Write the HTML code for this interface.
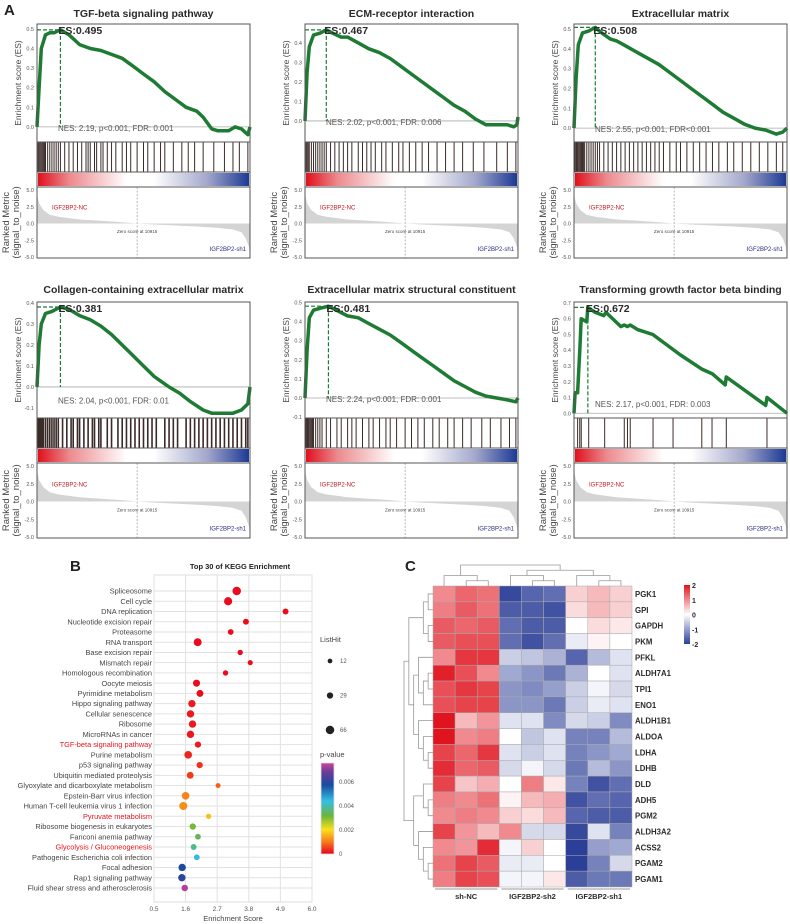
<!DOCTYPE html>
<html><head><meta charset="utf-8"><style>
html,body{margin:0;padding:0;background:#fff;}
svg{display:block;font-family:"Liberation Sans",Arial,sans-serif;}
</style></head><body>
<svg id="fig" width="790" height="924" viewBox="0 0 790 924" xmlns="http://www.w3.org/2000/svg">
<defs>
<linearGradient id="rankGrad" x1="0" x2="1" y1="0" y2="0">
<stop offset="0" stop-color="#e0101c"/><stop offset="0.15" stop-color="#ec8a8e"/><stop offset="0.42" stop-color="#ffffff"/><stop offset="0.55" stop-color="#ffffff"/><stop offset="0.8" stop-color="#a4a8cc"/><stop offset="1" stop-color="#1c3a94"/>
</linearGradient>
<linearGradient id="pGrad" x1="0" x2="0" y1="1" y2="0">
<stop offset="0" stop-color="#e8001e"/><stop offset="0.13" stop-color="#f7781a"/><stop offset="0.27" stop-color="#f9e11a"/><stop offset="0.42" stop-color="#6ab43c"/><stop offset="0.58" stop-color="#34c0e6"/><stop offset="0.76" stop-color="#1a4aa0"/><stop offset="0.9" stop-color="#6a3c96"/><stop offset="1" stop-color="#c8449a"/>
</linearGradient>
<linearGradient id="hmGrad" x1="0" x2="0" y1="0" y2="1">
<stop offset="0" stop-color="#e0141e"/><stop offset="0.5" stop-color="#ffffff"/><stop offset="1" stop-color="#2c3f98"/>
</linearGradient>
</defs>
<text x="4" y="15" font-size="15" font-weight="bold" fill="#222">A</text>
<text x="70" y="571" font-size="15" font-weight="bold" fill="#222">B</text>
<text x="405" y="571" font-size="15" font-weight="bold" fill="#222">C</text>
<g id="gA"></g><g id="gB"></g><g id="gC"></g>
</svg>
<script>
// ===== Panel A data =====
const gseaTitles = ["TGF-beta signaling pathway","ECM-receptor interaction","Extracellular matrix","Collagen-containing extracellular matrix","Extracellular matrix structural constituent","Transforming growth factor beta binding"];
const gseaES = ["0.495","0.467","0.508","0.381","0.481","0.672"];
const gseaPeak = [0.11,0.1,0.1,0.11,0.11,0.065];
const gseaNES = ["NES: 2.19, p<0.001, FDR: 0.001","NES: 2.02, p<0.001, FDR: 0.006","NES: 2.55, p<0.001, FDR<0.001","NES: 2.04, p<0.001, FDR: 0.01","NES: 2.24, p<0.001, FDR: 0.001","NES: 2.17, p<0.001, FDR: 0.003"];
const gseaYMin = [-0.077,-0.108,-0.07,-0.148,-0.105,-0.03];
const gseaYMax = [0.525,0.497,0.525,0.405,0.503,0.706];
const gseaTicks = [[0,0.1,0.2,0.3,0.4,0.5],[0,0.1,0.2,0.3,0.4],[0,0.1,0.2,0.3,0.4,0.5],[-0.1,0,0.1,0.2,0.3,0.4],[-0.1,0,0.1,0.2,0.3,0.4,0.5],[0,0.1,0.2,0.3,0.4,0.5,0.6,0.7]];
const esPos1 = [0,0.01,0.02,0.04,0.06,0.08,0.11,0.15,0.2,0.25,0.3,0.35,0.4,0.45,0.5,0.55,0.6,0.65,0.7,0.75,0.78,0.8,0.82,0.85,0.9,0.93,0.96,0.99,1];
const esVal1 = [0,0.2,0.4,0.47,0.48,0.48,0.495,0.47,0.42,0.4,0.39,0.37,0.35,0.31,0.27,0.23,0.18,0.14,0.1,0.08,0.05,0.02,-0.01,-0.02,-0.02,0,-0.01,-0.04,0];
const esPos2 = [0,0.01,0.02,0.04,0.07,0.1,0.13,0.17,0.2,0.25,0.3,0.35,0.4,0.45,0.5,0.55,0.6,0.65,0.7,0.75,0.8,0.85,0.9,0.95,0.98,0.995,1];
const esVal2 = [0,0.25,0.38,0.44,0.45,0.467,0.45,0.43,0.43,0.4,0.37,0.35,0.32,0.28,0.24,0.2,0.16,0.12,0.08,0.05,0.01,-0.02,-0.02,-0.02,-0.03,-0.02,0.02];
const esPos3 = [0,0.01,0.02,0.04,0.07,0.1,0.13,0.17,0.2,0.25,0.3,0.35,0.4,0.45,0.5,0.55,0.6,0.65,0.7,0.75,0.8,0.85,0.9,0.95,0.98,1];
const esVal3 = [0,0.25,0.42,0.48,0.49,0.508,0.48,0.45,0.44,0.41,0.38,0.35,0.32,0.28,0.24,0.2,0.16,0.12,0.08,0.05,0.02,0,-0.01,-0.03,-0.02,0];
const esPos4 = [0,0.01,0.02,0.04,0.07,0.11,0.15,0.2,0.25,0.3,0.35,0.4,0.45,0.5,0.55,0.62,0.67,0.72,0.78,0.82,0.87,0.92,0.96,0.99,1];
const esVal4 = [0,0.2,0.3,0.35,0.36,0.381,0.37,0.34,0.32,0.29,0.25,0.2,0.15,0.1,0.05,0,-0.03,-0.07,-0.11,-0.125,-0.125,-0.125,-0.11,-0.08,0];
const esPos5 = [0,0.01,0.02,0.04,0.07,0.11,0.13,0.2,0.25,0.3,0.35,0.4,0.45,0.5,0.55,0.6,0.65,0.7,0.75,0.8,0.85,0.9,0.95,0.99,1];
const esVal5 = [0,0.25,0.42,0.46,0.47,0.481,0.47,0.43,0.42,0.39,0.36,0.33,0.29,0.25,0.21,0.17,0.13,0.09,0.06,0.03,0.01,0,-0.01,-0.02,0];
const esPos6 = [0,0.005,0.017,0.027,0.034,0.06,0.065,0.1,0.14,0.15,0.22,0.236,0.25,0.264,0.3,0.37,0.5,0.6,0.65,0.71,0.715,0.9,0.906,1];
const esVal6 = [0,0.13,0.13,0.4,0.6,0.58,0.672,0.64,0.62,0.64,0.55,0.56,0.55,0.56,0.53,0.5,0.37,0.28,0.25,0.18,0.23,0.05,0.1,0];
const hits1 = [0.005,0.01,0.015,0.02,0.025,0.03,0.035,0.04,0.05,0.06,0.07,0.08,0.09,0.1,0.11,0.13,0.15,0.17,0.19,0.21,0.23,0.24,0.25,0.27,0.28,0.3,0.31,0.33,0.35,0.37,0.4,0.42,0.44,0.47,0.5,0.52,0.55,0.58,0.6,0.64,0.68,0.71,0.74,0.78,0.83,0.88,0.92,0.95,0.99];
const hits2 = [0.005,0.01,0.015,0.02,0.03,0.04,0.05,0.06,0.07,0.08,0.09,0.1,0.12,0.14,0.16,0.18,0.2,0.22,0.25,0.27,0.29,0.31,0.33,0.36,0.38,0.41,0.44,0.46,0.49,0.52,0.55,0.58,0.62,0.66,0.7,0.74,0.79,0.84,0.9,0.95,0.99];
const hits3 = [0.003,0.008,0.012,0.016,0.02,0.025,0.03,0.035,0.04,0.045,0.05,0.06,0.07,0.08,0.09,0.1,0.11,0.12,0.14,0.16,0.18,0.2,0.22,0.24,0.26,0.28,0.3,0.32,0.34,0.36,0.38,0.4,0.42,0.45,0.48,0.5,0.53,0.56,0.59,0.62,0.65,0.68,0.72,0.75,0.79,0.83,0.87,0.91,0.95,0.98];
const hits4 = [0.005,0.01,0.015,0.02,0.025,0.03,0.04,0.05,0.06,0.07,0.08,0.09,0.1,0.12,0.14,0.16,0.17,0.19,0.2,0.22,0.24,0.26,0.27,0.29,0.3,0.33,0.35,0.38,0.4,0.42,0.44,0.46,0.48,0.5,0.52,0.54,0.56,0.6,0.62,0.64,0.66,0.7,0.72,0.74,0.76,0.78,0.8,0.82,0.84,0.86,0.88,0.9,0.92,0.94,0.96,0.98,0.99];
const hits5 = [0.004,0.008,0.012,0.016,0.02,0.025,0.03,0.035,0.04,0.05,0.06,0.07,0.08,0.1,0.12,0.15,0.17,0.2,0.22,0.24,0.27,0.3,0.32,0.35,0.38,0.4,0.43,0.47,0.5,0.53,0.56,0.6,0.63,0.67,0.7,0.74,0.78,0.83,0.87,0.92,0.96,0.99];
const hits6 = [0.017,0.027,0.034,0.069,0.144,0.236,0.251,0.264,0.371,0.465,0.6,0.648,0.715,0.906];
const rankPos = [0,0.003,0.01,0.03,0.06,0.1,0.2,0.3,0.4,0.47,0.55,0.65,0.75,0.85,0.92,0.96,0.98,0.995,1];
const rankVal = [5,4,3,2,1.3,1,0.6,0.4,0.2,0,-0.15,-0.3,-0.45,-0.65,-0.9,-1.3,-2.2,-3.5,-5];
const rankTicks = [5,2.5,0,-2.5,-5];
const rankTickLabels = ["5.0","2.5","0.0","-2.5","-5.0"];

// ===== Panel B data =====
const keggTerms = ["Spliceosome","Cell cycle","DNA replication","Nucleotide excision repair","Proteasome","RNA transport","Base excision repair","Mismatch repair","Homologous recombination","Oocyte meiosis","Pyrimidine metabolism","Hippo signaling pathway","Cellular senescence","Ribosome","MicroRNAs in cancer","TGF-beta signaling pathway","Purine metabolism","p53 signaling pathway","Ubiquitin mediated proteolysis","Glyoxylate and dicarboxylate metabolism","Epstein-Barr virus infection","Human T-cell leukemia virus 1 infection","Pyruvate metabolism","Ribosome biogenesis in eukaryotes","Fanconi anemia pathway","Glycolysis / Gluconeogenesis","Pathogenic Escherichia coli infection","Focal adhesion","Rap1 signaling pathway","Fluid shear stress and atherosclerosis"];
const keggScore = [3.38,3.08,5.08,3.70,3.17,2.02,3.50,3.85,2.99,1.98,2.10,1.82,1.77,1.84,1.77,2.03,1.69,2.09,1.76,2.73,1.60,1.52,2.40,1.85,2.03,1.88,1.99,1.48,1.47,1.57];
const keggHits = [66,60,24,24,22,55,18,15,18,40,38,45,45,45,45,28,50,28,38,14,50,58,18,30,22,24,22,45,45,32];
const keggP = [0.0001,0.0001,0.0001,0.0001,0.0001,0.0001,0.0001,0.0001,0.0001,0.0001,0.0001,0.0002,0.0002,0.0002,0.0002,0.0002,0.0003,0.0004,0.0005,0.0008,0.0011,0.0012,0.0017,0.0031,0.0034,0.0038,0.0045,0.0058,0.006,0.0074];
const keggHighlight = ["TGF-beta signaling pathway","Pyruvate metabolism","Glycolysis / Gluconeogenesis"];
const keggXTicks = [0.5,1.6,2.7,3.8,4.9,6.0];
const keggXTickLabels = ["0.5","1.6","2.7","3.8","4.9","6.0"];
const listHitLegend = [12,29,66];
const pLegendTicks = [0,0.002,0.004,0.006];
const pLegendLabels = ["0","0.002","0.004","0.006"];

// ===== Panel C data =====
const genes = ["PGK1","GPI","GAPDH","PKM","PFKL","ALDH7A1","TPI1","ENO1","ALDH1B1","ALDOA","LDHA","LDHB","DLD","ADH5","PGM2","ALDH3A2","ACSS2","PGAM2","PGAM1"];
const groups = ["sh-NC","IGF2BP2-sh2","IGF2BP2-sh1"];
const zPGK1=[1.0,1.3,1.2,-1.9,-1.6,-1.5,0.4,0.6,0.4];
const zGPI=[1.1,1.4,1.2,-1.7,-1.7,-1.8,0.3,0.6,0.4];
const zGAPDH=[1.4,1.3,1.4,-1.5,-1.7,-1.7,0.0,0.3,0.2];
const zPKM=[1.4,1.5,1.5,-1.5,-1.8,-1.5,-0.2,0.1,0.0];
const zPFKL=[1.0,1.7,1.7,-0.5,-0.6,-0.8,-1.6,-0.7,-0.3];
const zALDH7A1=[1.9,1.5,1.0,-0.9,-1.1,-1.4,-0.8,0.0,-0.3];
const zTPI1=[1.5,1.7,1.6,-1.1,-1.2,-1.0,-0.5,-0.1,-0.4];
const zENO1=[1.5,1.6,1.6,-1.1,-1.1,-1.4,-0.5,-0.2,-0.3];
const zALDH1B1=[2.0,0.6,0.9,-0.3,-0.3,-1.2,-0.4,-0.5,-1.2];
const zALDOA=[2.0,1.0,1.1,0.0,-0.6,-0.3,-1.3,-1.3,-0.7];
const zLDHA=[1.6,1.3,1.7,-0.3,-0.5,-0.3,-1.3,-1.1,-0.9];
const zLDHB=[1.8,1.3,1.4,-0.4,-0.1,-0.4,-1.4,-0.7,-1.1];
const zDLD=[1.6,0.5,0.7,0.0,1.1,0.2,-1.3,-1.8,-1.5];
const zADH5=[1.1,1.0,1.2,0.1,0.6,0.7,-1.8,-1.5,-1.6];
const zPGM2=[1.0,1.1,1.0,0.4,0.3,0.6,-1.6,-1.7,-1.7];
const zALDH3A2=[1.6,0.9,0.6,1.0,-0.4,-0.4,-1.9,-0.3,-1.3];
const zACSS2=[1.0,0.9,1.8,-0.1,0.4,0.0,-2.0,-1.0,-0.9];
const zPGAM2=[1.2,1.6,1.4,-0.2,-0.2,0.0,-2.0,-1.3,-0.4];
const zPGAM1=[1.1,1.6,1.5,-0.1,-0.1,0.2,-1.7,-1.4,-1.4];
const heatValues=[zPGK1,zGPI,zGAPDH,zPKM,zPFKL,zALDH7A1,zTPI1,zENO1,zALDH1B1,zALDOA,zLDHA,zLDHB,zDLD,zADH5,zPGM2,zALDH3A2,zACSS2,zPGAM2,zPGAM1];
const rowTree=[[[[0,1],[2,3]],[[4,[[5,6],7]],[8,[9,[10,11]]]]],[[12,[13,14]],[15,[16,[17,18]]]]];
const colTree=[[0,[1,2]],[[3,[4,5]],[6,[7,8]]]];
const heatLegendTicks=[2,1,0,-1,-2];

// ===== helpers =====
const NS="http://www.w3.org/2000/svg";
function mk(parent,tag,attrs,text){const e=document.createElementNS(NS,tag);for(const k in attrs)e.setAttribute(k,attrs[k]);if(text!==undefined)e.textContent=text;parent.appendChild(e);return e;}

// ===== Panel A =====
const gA=document.getElementById('gA');
const colX=[37,305,574], boxW=213;
const rows=[{t:24,esB:142,hitB:172,cbB:187,rB:258,title:17},{t:302,esB:418,hitB:448,cbB:463,rB:538,title:293}];
const esPos=[esPos1,esPos2,esPos3,esPos4,esPos5,esPos6];
const esVal=[esVal1,esVal2,esVal3,esVal4,esVal5,esVal6];
const hitsAll=[hits1,hits2,hits3,hits4,hits5,hits6];
for(let p=0;p<6;p++){
  const x0=colX[p%3], R=rows[Math.floor(p/3)];
  const g=mk(gA,'g',{});
  
  
  const xS=f=>x0+f*boxW;
  const yS=v=>R.t+(gseaYMax[p]-v)/(gseaYMax[p]-gseaYMin[p])*(R.esB-R.t);
  const t=mk(g,'text',{x:x0+boxW/2,y:R.title,'font-size':10.5,'font-weight':'bold','text-anchor':'middle',fill:'#2a2a2a'},gseaTitles[p]);
  
  
  // zero line
  mk(g,'line',{x1:x0,x2:x0+boxW,y1:yS(0),y2:yS(0),stroke:'#aaa','stroke-width':0.8});
  // ticks
  gseaTicks[p].forEach(v=>{
    const tl=mk(g,'text',{x:x0-3,y:yS(v)+2,'font-size':5.5,'text-anchor':'end',fill:'#555'},v.toFixed(1));
    
    
  });
  const yt=mk(g,'text',{transform:`translate(${x0-16},${(R.t+R.esB)/2}) rotate(-90)`,'font-size':8.5,'text-anchor':'middle',fill:'#444'},'Enrichment score (ES)');
  
  
  // NES
  const nes=mk(g,'text',{x:x0+21,y:(p===3?yS(-0.08):(p===5?yS(0.04):yS(0)+4)),'font-size':8,fill:'#555'},gseaNES[p]);
  
  
  // dashed peak
  const pk=parseFloat(gseaES[p]);
  mk(g,'line',{x1:x0,x2:xS(gseaPeak[p]),y1:yS(pk),y2:yS(pk),stroke:'#1e7b34','stroke-width':1.2,'stroke-dasharray':'4,2'});
  mk(g,'line',{x1:xS(gseaPeak[p]),x2:xS(gseaPeak[p]),y1:yS(pk),y2:yS(0),stroke:'#1e7b34','stroke-width':1.2,'stroke-dasharray':'4,2'});
  // curve
  const pts=esPos[p].map((f,i)=>xS(f).toFixed(1)+','+yS(esVal[p][i]).toFixed(1)).join(' ');
  const cl=mk(g,'polyline',{points:pts,fill:'none',stroke:'#1e7b34','stroke-width':3.5,'stroke-linejoin':'round'});
  
  
  const esl=mk(g,'text',{x:xS(gseaPeak[p])-2,y:R.t+10,'font-size':10.5,'font-weight':'bold',fill:'#2a2a2a'},'ES:'+gseaES[p]);
  
  
  // hits
  hitsAll[p].forEach(f=>{
    const h=mk(g,'line',{x1:xS(f),x2:xS(f),y1:R.esB,y2:R.hitB,stroke:'#3a2a28','stroke-width':p===3?1.6:1});
    
    
  });
  // color bar
  const cb=mk(g,'rect',{x:x0+1,y:R.hitB+1,width:boxW-2,height:R.cbB-R.hitB-2,fill:'url(#rankGrad)'});
  
  
  // ranked metric
  const rT=R.cbB+3, rBt=R.rB-1;
  const yR=v=>rT+(5-v)/10*(rBt-rT);
  let a='M'+xS(0)+','+yR(0)+' '+rankPos.map((f,i)=>'L'+xS(f).toFixed(1)+','+yR(rankVal[i]).toFixed(1)).join(' ')+' L'+xS(1)+','+yR(0)+'Z';
  const ar=mk(g,'path',{d:a,fill:'#d4d4d4'});
  
  
  mk(g,'line',{x1:xS(0.47),x2:xS(0.47),y1:R.cbB,y2:R.rB,stroke:'#888','stroke-width':0.6,'stroke-dasharray':'2,1.5'});
  rankTicks.forEach((v,i)=>{
    const tl=mk(g,'text',{x:x0-3,y:yR(v)+2,'font-size':5.5,'text-anchor':'end',fill:'#555'},rankTickLabels[i]);
    
    
  });
  const rt=mk(g,'text',{transform:`translate(${x0-28},${(R.cbB+R.rB)/2}) rotate(-90)`,'font-size':9.5,'text-anchor':'middle',fill:'#444'});
  
  
  mk(rt,'tspan',{x:0,dy:0},'Ranked Metric');
  mk(rt,'tspan',{x:0,dy:10},'(signal_to_noise)');
  const nc=mk(g,'text',{x:x0+15,y:yR(2.1),'font-size':6,fill:'#c0141c'},'IGF2BP2-NC');
  
  
  const zs=mk(g,'text',{x:xS(0.47),y:yR(-1.4),'font-size':4.5,'text-anchor':'middle',fill:'#444'},'Zero score at 10915');
  
  
  const sh=mk(g,'text',{x:x0+boxW-4,y:yR(-4.1),'font-size':6,'text-anchor':'end',fill:'#2a2a80'},'IGF2BP2-sh1');
  
  
  // frames
  [[R.t,R.esB],[R.esB,R.hitB],[R.hitB,R.cbB],[R.cbB,R.rB]].forEach(([a1,b1])=>mk(g,'rect',{x:x0,y:a1,width:boxW,height:b1-a1,fill:'none',stroke:'#555','stroke-width':1}));
}

// ===== Panel B =====
const gB=document.getElementById('gB');
const bx0=154,bx1=312,by0=575,by1=902,rowY0=591,rowStep=10.24;
const xB=v=>bx0+(v-0.5)/5.5*(bx1-bx0);
const yB=i=>rowY0+i*rowStep;
const rB=n=>1+0.4*Math.sqrt(n);
function pColor(p){
  const stops=[[0,[232,0,30]],[0.001,[247,120,26]],[0.002,[249,225,26]],[0.0032,[106,180,60]],[0.0044,[52,192,230]],[0.0058,[26,74,160]],[0.0068,[106,60,150]],[0.0076,[200,68,154]]];
  for(let i=0;i<stops.length-1;i++){const [a,ca]=stops[i],[b,cb]=stops[i+1];if(p<=b){const t=Math.max(0,(p-a)/(b-a));return 'rgb('+ca.map((c,k)=>Math.round(c+(cb[k]-c)*t)).join(',')+')';}}
  return 'rgb(200,68,154)';
}
const bt=mk(gB,'text',{x:240,y:569,'font-size':7.5,'font-weight':'bold','text-anchor':'middle',fill:'#222'},'Top 30 of KEGG Enrichment');


mk(gB,'rect',{x:bx0,y:by0,width:bx1-bx0,height:by1-by0,fill:'#fff',stroke:'#ddd','stroke-width':1});
keggXTicks.forEach((v,i)=>{
  mk(gB,'line',{x1:xB(v),x2:xB(v),y1:by0,y2:by1,stroke:'#e2e2e2','stroke-width':1});
  const tl=mk(gB,'text',{x:xB(v),y:by1+9,'font-size':6.5,'text-anchor':'middle',fill:'#555'},keggXTickLabels[i]);
  
  
});
keggTerms.forEach((t,i)=>{
  mk(gB,'line',{x1:bx0,x2:bx1,y1:yB(i),y2:yB(i),stroke:'#e2e2e2','stroke-width':1});
  const hl=keggHighlight.includes(t);
  const l=mk(gB,'text',{x:bx0-2,y:yB(i)+2.6,'font-size':7.4,'text-anchor':'end',fill:hl?'#e8141b':'#444'},t);
  
  
});
keggTerms.forEach((t,i)=>{
  const c=mk(gB,'circle',{cx:xB(keggScore[i]),cy:yB(i),r:rB(keggHits[i]),fill:pColor(keggP[i])});
  
  
});
const bxt=mk(gB,'text',{x:(bx0+bx1)/2,y:921,'font-size':7.5,'text-anchor':'middle',fill:'#444'},'Enrichment Score');


const lh=mk(gB,'text',{x:320,y:642,'font-size':7.5,fill:'#444'},'ListHit');


listHitLegend.forEach((n,i)=>{
  const cy=661+i*34.5;
  const c=mk(gB,'circle',{cx:330,cy:cy,r:rB(n),fill:'#222'});
  
  
  const tl=mk(gB,'text',{x:340,y:cy+2,'font-size':6,fill:'#555'},String(n));
  
  
});
const pv=mk(gB,'text',{x:320,y:757,'font-size':7.5,fill:'#444'},'p-value');


const pbar=mk(gB,'rect',{x:321,y:763,width:13,height:91,fill:'url(#pGrad)',stroke:'#ddd','stroke-width':0.8});


pLegendTicks.forEach((v,i)=>{
  const y=854-v/0.0076*91;
  const tl=mk(gB,'text',{x:339,y:y+2,'font-size':6,fill:'#555'},pLegendLabels[i]);
  
  
});

// ===== Panel C =====
const gC=document.getElementById('gC');
const hx0=433,hy0=586,cw=(632-433)/9,ch=(887-586)/19;
function hmColor(z){
  z=Math.max(-2,Math.min(2,z));
  const w=[255,255,255], r=[224,20,30], b=[44,63,152];
  const t=Math.abs(z)/2, c=z>=0?r:b;
  return 'rgb('+w.map((v,k)=>Math.round(v+(c[k]-v)*t)).join(',')+')';
}
heatValues.forEach((row,i)=>{
  row.forEach((z,j)=>{
    const r=mk(gC,'rect',{x:hx0+j*cw,y:hy0+i*ch,width:cw,height:ch,fill:hmColor(z),stroke:'#aaa','stroke-width':0.5});
    
    
  });
  const gl=mk(gC,'text',{x:635,y:hy0+i*ch+ch/2+3,'font-size':7.8,'font-weight':'bold',fill:'#2a2a2a'},genes[i]);
  
  
});
groups.forEach((gname,k)=>{
  const xa=hx0+k*3*cw+2, xb=hx0+(k+1)*3*cw-2;
  mk(gC,'line',{x1:xa,x2:xb,y1:889,y2:889,stroke:'#999','stroke-width':1});
  const tl=mk(gC,'text',{x:(xa+xb)/2,y:899,'font-size':7.5,'font-weight':'bold','text-anchor':'middle',fill:'#2a2a2a'},gname);
  
  
});
// dendrograms
function depth(n){return Array.isArray(n)?1+Math.max(depth(n[0]),depth(n[1])):0;}
function drawTree(n,posFn,hFn,horiz){
  if(!Array.isArray(n))return {p:posFn(n),h:0};
  const a=drawTree(n[0],posFn,hFn,horiz),b=drawTree(n[1],posFn,hFn,horiz);
  const h=depth(n), hv=hFn(h), ha=hFn(a.h), hb=hFn(b.h);
  const d=horiz?`M${ha},${a.p}H${hv}V${b.p}H${hb}`:`M${a.p},${ha}V${hv}H${b.p}V${hb}`;
  mk(gC,'path',{d:d,fill:'none',stroke:'#999','stroke-width':0.8});
  return {p:(a.p+b.p)/2,h:h};
}
const rd=depth(rowTree);
drawTree(rowTree,i=>hy0+i*ch+ch/2,h=>hx0-h*(29/rd),true);
const cd=depth(colTree);
drawTree(colTree,j=>hx0+j*cw+cw/2,h=>hy0-h*(21/cd),false);
const hbar=mk(gC,'rect',{x:684,y:585,width:6,height:59,fill:'url(#hmGrad)'});


heatLegendTicks.forEach(v=>{
  const tl=mk(gC,'text',{x:692,y:585+(2-v)/4*59+3,'font-size':7,'font-weight':'bold',fill:'#2a2a2a'},String(v));
  
  
});
</script>
</body></html>
